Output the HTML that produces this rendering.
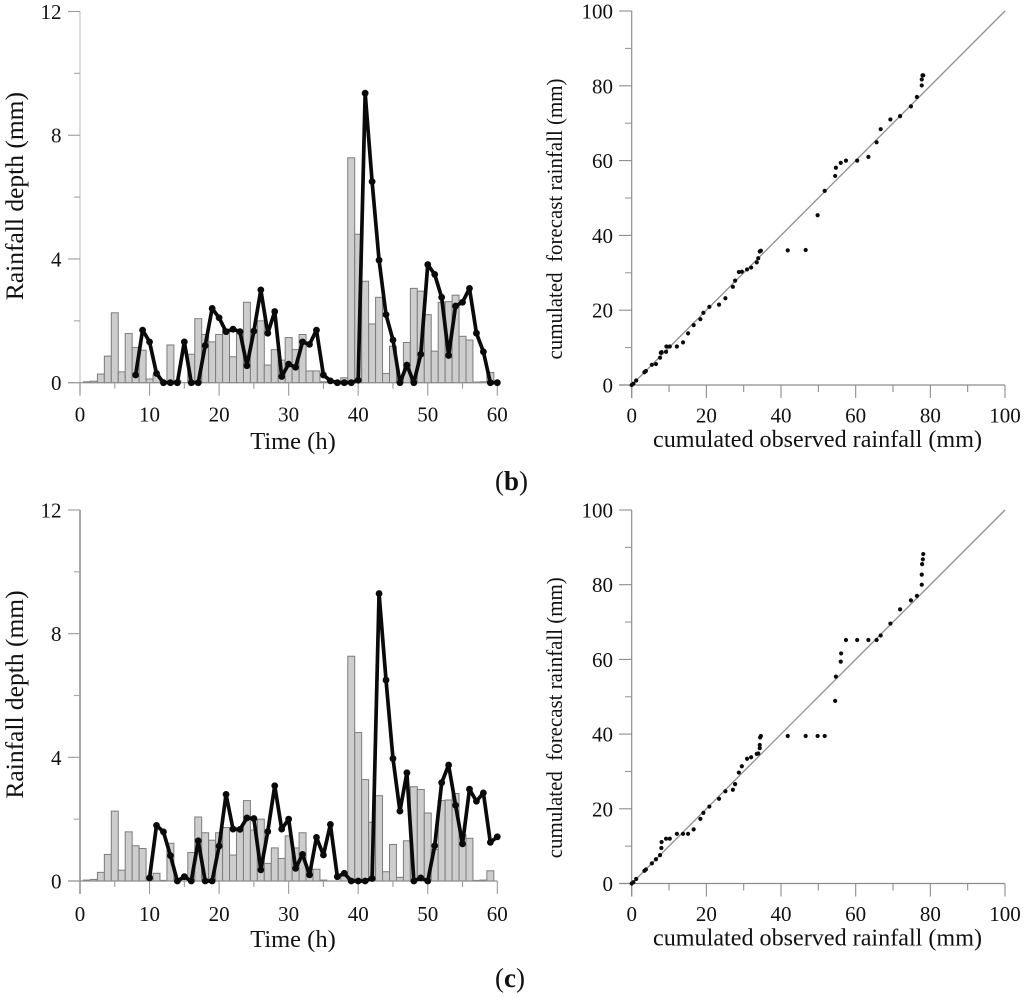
<!DOCTYPE html>
<html lang="en">
<head>
<meta charset="utf-8">
<title>Rainfall forecast charts</title>
<style>
html,body{margin:0;padding:0;background:#fff;}
body{width:1024px;height:997px;overflow:hidden;}
svg{display:block;font-family:"Liberation Serif",serif;fill:#111;}
</style>
</head>
<body>
<svg id="figure" xmlns="http://www.w3.org/2000/svg" width="1024" height="997" viewBox="0 0 1024 997">
<text x="495" y="490" font-size="27">(<tspan font-weight="bold">b</tspan>)</text>
<text x="495" y="987" font-size="27">(<tspan font-weight="bold">c</tspan>)</text>
</svg>
<script>
const hyetographYTicks = [0, 4, 8, 12];
const hyetographXTicks = [0, 10, 20, 30, 40, 50, 60];
const scatterTicks = [0, 20, 40, 60, 80, 100];

const observedRain = [0.03,0.05,0.28,0.86,2.26,0.35,1.59,1.14,1.05,0.12,0.25,0.02,1.22,0.08,0,0.92,2.07,1.56,1.32,1.56,1.73,0.84,1.65,2.6,1.65,2.0,0.57,1.07,0.73,1.46,1.07,1.56,0.38,0.38,0.03,0,0,0.16,7.27,4.8,3.28,1.9,2.76,0.3,1.18,0.12,1.3,3.05,2.96,2.2,1.02,2.6,2.62,2.83,1.5,1.38,0.02,0.03,0.33,0];

const forecastStartHourB = 8;
const forecastRainB = [0.25,1.7,1.32,0.3,0,0,0,1.32,0,0,1.2,2.4,2.1,1.65,1.73,1.65,0.55,1.67,3.0,1.6,2.3,0.2,0.6,0.5,1.32,1.24,1.7,0.25,0.06,0,0,0,0.08,9.36,6.5,3.96,2.2,1.38,0,0.57,0,0.92,3.82,3.5,2.76,0.88,2.48,2.6,3.05,1.6,1.0,0,0];

const forecastStartHourC = 10;
const forecastRainC = [0.1,1.8,1.59,0.82,0,0.14,0,1.3,0,0,1.13,2.8,1.68,1.67,2.04,2.02,0.36,1.6,3.08,1.68,2.0,0.41,0.86,0.2,1.41,0.84,1.83,0.14,0.25,0,0,0,0.08,9.3,6.5,3.96,2.26,3.5,0,0.1,0,1.14,3.18,3.75,2.45,1.2,2.97,2.58,2.85,1.25,1.43];

const cumObservedB = [0,0.45,1.2,3.4,3.8,5.4,6.5,7.6,7.8,8,9.2,9.3,10.2,12.1,13.75,15.1,16.6,18.4,19.2,20.8,23.4,25.1,27.1,27.7,28.7,29.5,30.9,32,33.5,33.9,34.3,34.6,41.8,46.6,49.8,51.7,54.5,54.7,56,57.4,60.4,63.4,65.6,66.7,69.3,71.9,74.8,76.4,77.7,77.7,77.9,78.1];
const cumForecastB = [0,0.35,1.2,3.4,3.75,5.4,5.6,7.3,8.6,8.8,8.9,10.3,10.3,10.3,11.4,13.8,16,17.6,19.3,20.9,21.5,23.2,26.25,27.9,30.2,30.3,30.9,31.4,32.8,33.9,35.7,35.9,36,36.1,45.4,51.9,55.9,58.1,59.4,60,60,61,64.9,68.4,71,71.9,74.5,77,80.1,81.7,82.8,82.8];

const cumObservedC = [0,0.45,1.2,3.4,3.8,5.4,6.5,7.6,7.95,8,9.2,10.2,12.1,13.75,15.1,16.6,18.4,19.2,20.8,23.4,25.1,27.1,27.7,28.7,29.5,30.9,32,33.5,33.9,34.3,34.3,34.4,34.6,41.8,46.6,49.8,51.7,54.5,54.7,56,56.1,57.4,60.4,63.4,65.6,66.7,69.3,71.9,74.8,76.4,77.7,77.7,77.8,78,78.1];
const cumForecastC = [0,0.35,1.2,3.4,3.75,5.4,6.5,7.6,9.5,11.1,12,12,13.3,13.3,13.3,14.5,17.3,18.9,20.6,22.7,24.7,25.1,26.6,29.7,31.4,33.4,33.8,34.7,34.8,36.25,37.1,39.1,39.5,39.5,39.5,39.5,39.5,48.9,55.4,59.4,61.6,65.2,65.2,65.2,65.2,66.4,69.6,73.4,75.8,77,80,82.7,85.5,86.8,88.2];

const NS = 'http://www.w3.org/2000/svg';
const fig = document.getElementById('figure');

function make(parent, tag, attrs) {
  const el = document.createElementNS(NS, tag);
  for (const k in attrs) el.setAttribute(k, attrs[k]);
  parent.appendChild(el);
  return el;
}

function tickLine(parent, x1, y1, x2, y2, color, width) {
  const el = make(parent, 'line', {x1: x1, y1: y1, x2: x2, y2: y2, stroke: color, 'stroke-width': width});
  
  
  return el;
}

function label(parent, x, y, str, size, anchor) {
  const el = make(parent, 'text', {x: x, y: y, 'font-size': size, 'text-anchor': anchor});
  el.textContent = str;
  
  
  return el;
}

function drawHyetograph(panel, y0, yTop, startHour, series, axisColor, labelBase, titleBase) {
  const xScale = function (h) { return 80 + 6.955 * h; };
  const yScale = function (v) { return y0 - (y0 - yTop) * v / 12; };
  const g = make(fig, 'g', {});
  
  

  observedRain.forEach(function (v, i) {
    const cx = xScale(i + 1);
    const bar = make(g, 'rect', {x: cx - 3.48, y: yScale(v), width: 6.955, height: y0 - yScale(v), fill: '#cdcdcd', stroke: '#7c7c7c', 'stroke-width': 1});
    
    
  });

  const axisY = make(g, 'line', {x1: 80, y1: yTop, x2: 80, y2: y0 + 13, stroke: axisColor, 'stroke-width': 1.5});
  
  
  const axisX = make(g, 'line', {x1: 68, y1: y0, x2: xScale(60), y2: y0, stroke: '#8c8c8c', 'stroke-width': 1.2});
  
  

  hyetographYTicks.forEach(function (t) {
    tickLine(g, 68, yScale(t), 80, yScale(t), '#9a9a9a', 1.1);
    label(g, 61.5, yScale(t) + 7.5, String(t), 21, 'end');
    if (t < 12) tickLine(g, 74, yScale(t + 2), 80, yScale(t + 2), '#a5a5a5', 1.1);
  });
  hyetographXTicks.forEach(function (t) {
    tickLine(g, xScale(t), y0, xScale(t), y0 + 13, '#9a9a9a', 1.1);
    label(g, xScale(t), labelBase, String(t), 21, 'middle');
    if (t < 60) tickLine(g, xScale(t + 5), y0, xScale(t + 5), y0 + 6, '#9a9a9a', 1.1);
  });

  const pts = series.map(function (v, i) { return xScale(startHour + i).toFixed(2) + ',' + yScale(v).toFixed(2); });
  const line = make(g, 'polyline', {points: pts.join(' '), fill: 'none', stroke: '#0a0a0a', 'stroke-width': 3.7, 'stroke-linejoin': 'round'});
  
  
  series.forEach(function (v, i) {
    const dot = make(g, 'circle', {cx: xScale(startHour + i), cy: yScale(v), r: 3.4, fill: '#0a0a0a'});
    
    
  });

  const title = make(g, 'text', {x: 293, y: titleBase, 'font-size': 24.5, 'text-anchor': 'middle'});
  title.textContent = 'Time (h)';
  
  
  const cy = (y0 + yTop) / 2 - 1;
  const yTitle = make(g, 'text', {x: 23, y: cy, 'font-size': 25.5, 'text-anchor': 'middle', transform: 'rotate(-90 23 ' + cy + ')'});
  yTitle.textContent = 'Rainfall depth (mm)';
  
  
}

function drawScatter(panel, y0, yTop, xs, ys, labelBase, titleBase) {
  const x0 = 631.7;
  const xScale = function (v) { return x0 + 3.733 * v; };
  const yScale = function (v) { return y0 - (y0 - yTop) * v / 100; };
  const g = make(fig, 'g', {});
  
  

  const diag = make(g, 'line', {x1: xScale(0), y1: yScale(0), x2: xScale(100), y2: yScale(100), stroke: '#8f8f8f', 'stroke-width': 1.3});
  
  
  const axisY = make(g, 'line', {x1: x0, y1: yTop, x2: x0, y2: y0 + 13, stroke: '#8c8c8c', 'stroke-width': 1.2});
  
  
  const axisX = make(g, 'line', {x1: 619, y1: y0, x2: xScale(100), y2: y0, stroke: '#8c8c8c', 'stroke-width': 1.3});
  
  

  scatterTicks.forEach(function (t) {
    tickLine(g, 619, yScale(t), x0, yScale(t), '#8c8c8c', 1.1);
    tickLine(g, xScale(t), y0, xScale(t), y0 + 13, '#8c8c8c', 1.1);
    label(g, 613, yScale(t) + 7.5, String(t), 21, 'end');
    label(g, xScale(t), labelBase, String(t), 21, 'middle');
    if (t < 100) {
      tickLine(g, 625, yScale(t + 10), x0, yScale(t + 10), '#9a9a9a', 1.1);
      tickLine(g, xScale(t + 10), y0, xScale(t + 10), y0 + 7, '#8c8c8c', 1.1);
    }
  });

  xs.forEach(function (v, i) {
    const dot = make(g, 'circle', {cx: xScale(v), cy: yScale(ys[i]), r: 2.1, fill: '#0a0a0a'});
    
    
  });

  const title = make(g, 'text', {x: 817.5, y: titleBase, 'font-size': 24.5, 'text-anchor': 'middle', textLength: 329, lengthAdjust: 'spacingAndGlyphs'});
  title.textContent = 'cumulated observed rainfall (mm)';
  
  
  const cy = (y0 + yTop) / 2 + 21;
  const yTitle = make(g, 'text', {x: 562, y: cy, 'font-size': 22.5, 'text-anchor': 'middle', textLength: 281, lengthAdjust: 'spacingAndGlyphs', transform: 'rotate(-90 562 ' + cy + ')', style: 'white-space:pre'});
  yTitle.textContent = 'cumulated  forecast rainfall (mm)';
  
  
}

drawHyetograph('b', 382.7, 11.5, forecastStartHourB, forecastRainB, '#cfcfcf', 421.7, 449);
drawHyetograph('c', 881, 510, forecastStartHourC, forecastRainC, '#8c8c8c', 921, 947);
drawScatter('b', 385, 11, cumObservedB, cumForecastB, 422.7, 447);
drawScatter('c', 883.5, 510, cumObservedC, cumForecastC, 921, 945.5);
</script>
</body>
</html>
